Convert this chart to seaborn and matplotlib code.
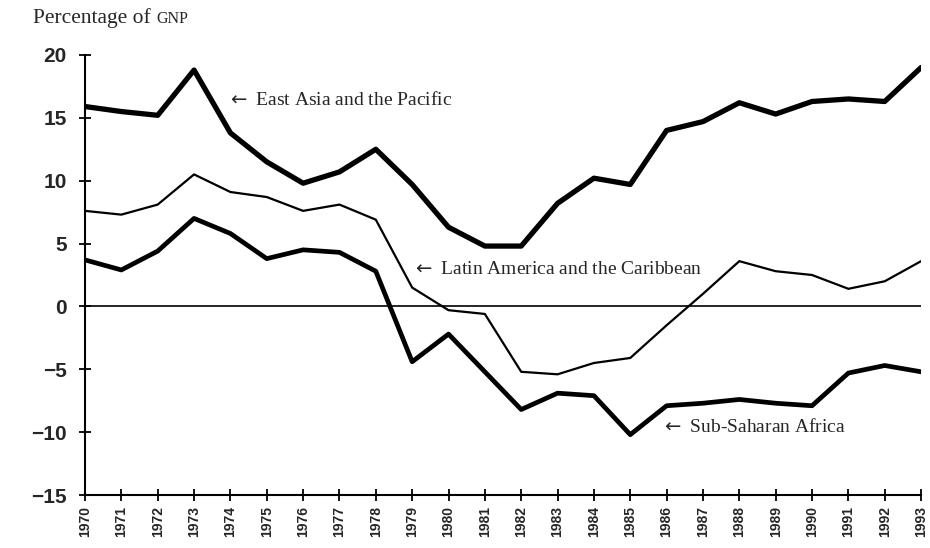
import numpy as np
import pandas as pd
import matplotlib
matplotlib.use("Agg")
import matplotlib.pyplot as plt
import seaborn as sns
from matplotlib.offsetbox import TextArea, HPacker, AnchoredOffsetbox

years = list(range(1970, 1994))

east_asia = [15.9, 15.5, 15.2, 18.8, 13.8, 11.5, 9.8, 10.7, 12.5, 9.7, 6.3, 4.8,
             4.8, 8.2, 10.2, 9.7, 14.0, 14.7, 16.2, 15.3, 16.3, 16.5, 16.3, 19.0]
latin_america = [7.6, 7.3, 8.1, 10.5, 9.1, 8.7, 7.6, 8.1, 6.9, 1.5, -0.3, -0.6,
                 -5.2, -5.4, -4.5, -4.1, -1.5, 1.0, 3.6, 2.8, 2.5, 1.4, 2.0, 3.6]
sub_saharan = [3.7, 2.9, 4.4, 7.0, 5.8, 3.8, 4.5, 4.3, 2.8, -4.4, -2.2, -5.2,
               -8.2, -6.9, -7.1, -10.2, -7.9, -7.7, -7.4, -7.7, -7.9, -5.3, -4.7, -5.2]

series_names = ["East Asia and the Pacific",
                "Latin America and the Caribbean",
                "Sub-Saharan Africa"]
y_ticks = [-15, -10, -5, 0, 5, 10, 15, 20]

df = pd.DataFrame({"year": years,
                   series_names[0]: east_asia,
                   series_names[1]: latin_america,
                   series_names[2]: sub_saharan})

sns.set_style("ticks")
serif = ["Liberation Serif", "DejaVu Serif"]

fig = plt.figure(figsize=(9.3, 5.48), dpi=100)
ax = fig.add_axes([0.0914, 0.0967, 0.899, 0.803])

widths = [3.8, 1.6, 3.4]
for name, lw in zip(series_names, widths):
    sns.lineplot(data=df, x="year", y=name, ax=ax, color="black", linewidth=lw,
                 solid_joinstyle="round", solid_capstyle="round")

ax.axhline(0, color="black", linewidth=1.2, zorder=1)

ax.set_xlim(1970, 1993)
ax.set_ylim(-15, 20)
ax.set_xticks(years)
ax.set_xticklabels([str(y) for y in years], rotation=90,
                   fontsize=10, fontweight="bold", family="Liberation Sans")
ax.set_yticks(y_ticks)
ax.set_yticklabels([str(v).replace("-", "\u2212") for v in y_ticks],
                   fontsize=15, fontweight="bold", family="Liberation Sans")
ax.tick_params(axis="both", direction="inout", length=8, width=1.3, color="black")
ax.tick_params(axis="y", pad=9)
ax.tick_params(axis="x", pad=4)
ax.set_xlabel("")
ax.set_ylabel("")
sns.despine(ax=ax)
for s in ["left", "bottom"]:
    ax.spines[s].set_linewidth(1.5)
    ax.spines[s].set_color("black")

# series labels
label_kw = dict(family=serif, fontsize=14, va="center", ha="left")
ax.text(1973.9, 16.4, r"$\leftarrow$ " + series_names[0], **label_kw)
ax.text(1979.0, 2.9, r"$\leftarrow$ " + series_names[1], **label_kw)
ax.text(1985.85, -9.6, r"$\leftarrow$ " + series_names[2], **label_kw)

# y-axis title with small caps GNP
t1 = TextArea("Percentage of ", textprops=dict(family=serif, fontsize=15.5))
t2 = TextArea("GNP", textprops=dict(family=serif, fontsize=11.5))
box = HPacker(children=[t1, t2], align="baseline", pad=0, sep=0)
anchored = AnchoredOffsetbox(loc="upper left", child=box, pad=0, frameon=False,
                             bbox_to_anchor=(0.036, 0.985),
                             bbox_transform=fig.transFigure, borderpad=0)
fig.add_artist(anchored)

fig.savefig("out.png", dpi=100)
